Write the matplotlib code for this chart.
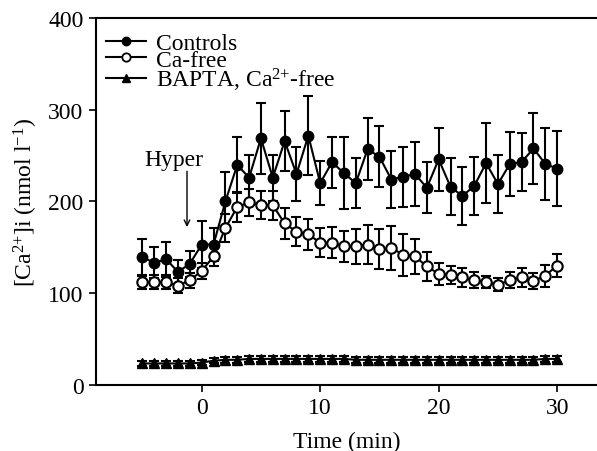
import numpy as np
import matplotlib
matplotlib.use("Agg")
import matplotlib.pyplot as plt
from matplotlib.lines import Line2D

plt.rcParams['font.family'] = ['Liberation Serif', 'DejaVu Serif']
plt.rcParams['mathtext.fontset'] = 'custom'
plt.rcParams['mathtext.rm'] = 'Liberation Serif'
plt.rcParams['mathtext.it'] = 'Liberation Serif:italic'

time = list(range(-5, 31))

controls = [139, 133, 137, 123, 132, 153, 153, 200, 240, 226, 269, 226, 266, 230, 272, 220,
            243, 231, 220, 257, 249, 224, 227, 230, 215, 246, 216, 206, 217, 242, 219, 241,
            243, 258, 241, 236]
controls_err = [20, 17, 19, 13, 14, 26, 18, 32, 31, 25, 39, 25, 33, 30, 43, 24,
                28, 39, 27, 34, 33, 31, 33, 35, 28, 34, 31, 32, 32, 44, 32, 35,
                32, 39, 39, 41]

cafree = [112, 112, 112, 108, 114, 124, 140, 171, 194, 199, 196, 196, 176, 167, 164, 155,
          155, 151, 151, 153, 148, 149, 142, 140, 129, 121, 120, 117, 114, 112, 109, 114,
          117, 113, 119, 130]
cafree_err = [8, 8, 8, 8, 8, 9, 11, 15, 16, 15, 15, 16, 17, 16, 17, 16,
              17, 17, 19, 21, 22, 24, 23, 19, 16, 12, 10, 10, 9, 7, 7, 9,
              10, 9, 12, 13]

bapta = [23, 23, 23, 23, 23, 24, 26, 27, 27, 28, 28, 28, 28, 28, 28, 28,
         28, 28, 27, 27, 27, 27, 27, 27, 27, 27, 27, 27, 27, 27, 27, 27,
         27, 27, 28, 28]
bapta_err = [3] * 36

labels = ['Controls', 'Ca-free', 'BAPTA, Ca$^{\\mathrm{2{+}}}$-free']

fig = plt.figure(figsize=(5.97, 4.52), dpi=100)
ax = fig.add_axes([0.1608, 0.1471, 0.8392, 0.8098])

lw = 1.5
ax.errorbar(time, bapta, yerr=bapta_err, fmt='-^', color='black', mfc='black', mec='black',
            ms=7, lw=lw, elinewidth=lw, capsize=3.5, capthick=lw, zorder=2)
ax.errorbar(time, controls, yerr=controls_err, fmt='-o', color='black', mfc='black', mec='black',
            ms=7.5, lw=lw, elinewidth=lw, capsize=3.5, capthick=lw, zorder=3)
ax.errorbar(time, cafree, yerr=cafree_err, fmt='-o', color='black', mfc='white', mec='black',
            mew=1.5, ms=7.5, lw=lw, elinewidth=lw, capsize=3.5, capthick=lw, zorder=4)

ax.set_xlim(-8.92, 33.36)
ax.set_ylim(0, 400)
ax.set_xticks([0, 10, 20, 30])
ax.set_yticks([0, 100, 200, 300, 400])
ax.tick_params(direction='out', length=5, width=1.2, labelsize=17, pad=4)
for s in ['left', 'bottom', 'top']:
    ax.spines[s].set_linewidth(1.5)
ax.spines['right'].set_visible(False)

ax.set_xlabel('Time (min)', fontsize=17, labelpad=9)
ax.set_ylabel('[Ca$^{\\mathrm{2{+}}}$]i (nmol l$^{\\mathrm{-1}}$)', fontsize=17, labelpad=6)

ax.text(-2.35, 246, 'Hyper', fontsize=17, ha='center', va='center')
ax.annotate('', xy=(-1.24, 172), xytext=(-1.24, 233),
            arrowprops=dict(arrowstyle='->', color='black', lw=1.0,
                            shrinkA=0, shrinkB=0))

handles = [
    Line2D([], [], color='black', lw=lw, marker='o', mfc='black', mec='black', ms=6),
    Line2D([], [], color='black', lw=lw, marker='o', mfc='white', mec='black', mew=1.3, ms=6),
    Line2D([], [], color='black', lw=lw, marker='^', mfc='black', mec='black', ms=6),
]
leg = ax.legend(handles, labels, loc='upper left', bbox_to_anchor=(0.02, 0.962),
                frameon=False, fontsize=17, handlelength=1.7, handletextpad=0.4,
                labelspacing=-0.2, borderaxespad=0.0, borderpad=0.0)

fig.savefig('out.png', dpi=100)
